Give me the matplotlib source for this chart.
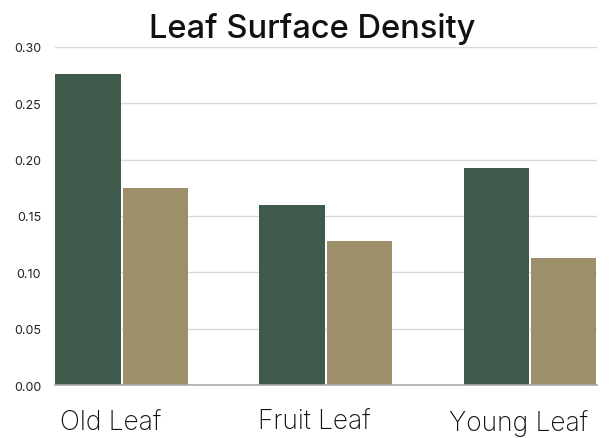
import matplotlib
matplotlib.use("Agg")
import matplotlib.pyplot as plt
import matplotlib.transforms as mtransforms
import numpy as np

# data
categories = ["Old Leaf", "Fruit Leaf", "Young Leaf"]
series_a = [0.276, 0.160, 0.193]   # dark green
series_b = [0.175, 0.128, 0.113]   # tan
yticks = [0.00, 0.05, 0.10, 0.15, 0.20, 0.25, 0.30]

DARK = "#3e5b4c"
TAN = "#9d8f6a"

plt.rcParams["font.family"] = ["Inter", "DejaVu Sans"]

fig = plt.figure(figsize=(6.14, 4.39), dpi=100)
ax = fig.add_axes([0.0896, 0.1207, 0.8824, 0.77])

x = np.arange(len(categories))
w = 0.32
ax.bar(x - 0.165, series_a, width=w, color=DARK, zorder=3)
ax.bar(x + 0.165, series_b, width=w, color=TAN, zorder=3)

ax.set_xlim(-0.326, 2.328)
ax.set_ylim(0, 0.30)
ax.set_yticks(yticks)
ax.set_yticklabels([f"{v:.2f}" for v in yticks], fontsize=9, color="#222222")
ax.yaxis.grid(True, color="#d9d9d9", linewidth=1.0, zorder=0)
ax.tick_params(length=0, pad=10)

ax.set_xticks(x)
ax.set_xticklabels(categories, fontsize=19, color="#111111", fontweight="light")
ax.tick_params(axis="x", pad=17)
off = mtransforms.ScaledTranslation(-11 / 100, 0, fig.dpi_scale_trans)
for lab in ax.get_xticklabels():
    lab.set_transform(lab.get_transform() + off)

for s in ["top", "right", "left"]:
    ax.spines[s].set_visible(False)
ax.spines["bottom"].set_color("#aaaaaa")
ax.spines["bottom"].set_linewidth(1.2)
ax.spines["bottom"].set_zorder(4)

fig.text(0.508, 0.935, "Leaf Surface Density", ha="center", va="center",
         fontsize=23.5, fontweight="medium", color="#111111")

fig.savefig("out.png", dpi=100)
